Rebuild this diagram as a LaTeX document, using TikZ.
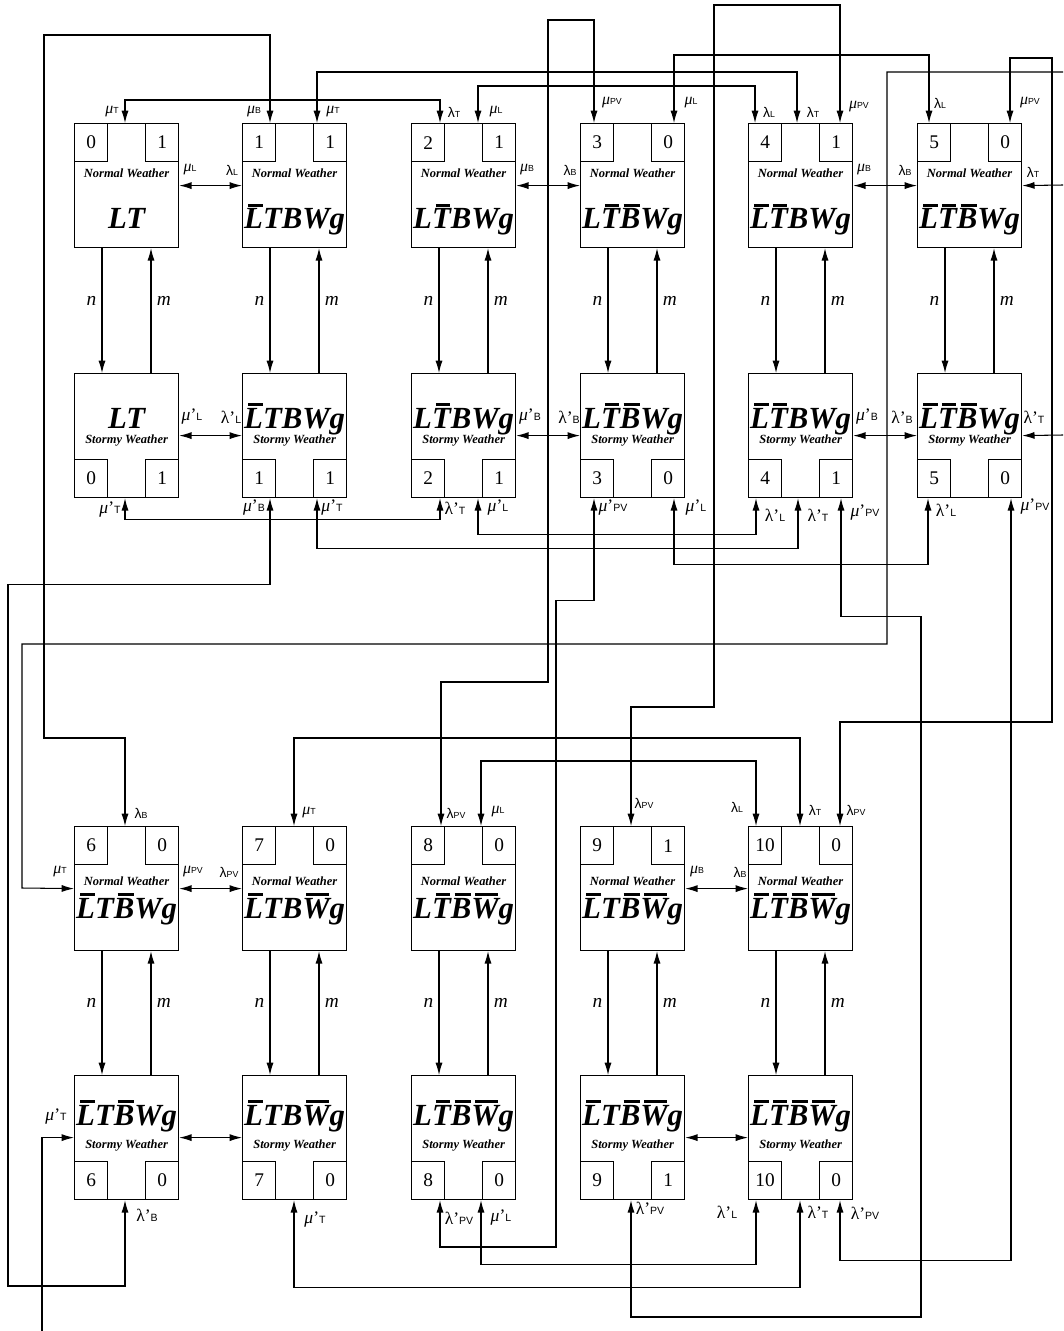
\documentclass[tikz,border=0pt]{standalone}
\usepackage{fontspec}
\setmainfont{Liberation Serif}
\newfontfamily\sansf{Liberation Sans}
\usetikzlibrary{arrows.meta, calc}

\tikzstyle{state} = [draw, line width=0.7pt, minimum width=2.08cm, minimum height=2.48cm, inner sep=0pt, anchor=north west]
\tikzstyle{cell} = [draw, line width=0.7pt, minimum width=0.66cm, minimum height=0.76cm, inner sep=0pt, font=\fontsize{11}{11}\selectfont]
\tikzstyle{wtext} = [inner sep=0pt, font=\bfseries\itshape\fontsize{7.1}{8}\selectfont]
\tikzstyle{big} = [inner sep=0pt, font=\bfseries\itshape\fontsize{17.5}{18}\selectfont]
\tikzstyle{rate} = [inner sep=0pt, font=\fontsize{9}{9}\selectfont]
\tikzstyle{nm} = [inner sep=3pt, font=\itshape\fontsize{11}{11}\selectfont]
\tikzstyle{link} = [<->]

% letra con barra encima
\newcommand{\barl}[1]{\setbox0=\hbox{#1}\vbox{\hbox to \wd0{\hskip 2.2pt\vrule height 1.5pt depth 0pt width \dimexpr\wd0-2.4pt\relax\hss}\nointerlineskip\vskip 1.3pt\box0}}
% tasas
\newcommand{\mur}[1]{{\itshape μ}{\sansf\fontsize{5}{5}\selectfont #1}}
\newcommand{\lar}[1]{{\sansf\fontsize{8}{8}\selectfont λ\fontsize{5}{5}\selectfont #1}}
\newcommand{\murp}[1]{{\fontsize{10}{10}\selectfont\itshape μ\upshape’}{\sansf\fontsize{6}{6}\selectfont #1}}
\newcommand{\larp}[1]{{\fontsize{10}{10}\selectfont λ’}{\sansf\fontsize{6}{6}\selectfont #1}}

% estado con tiempo normal: nombre, x, y, celdas, etiqueta, alturas de texto
\newcommand{\normalstate}[8]{%
  \node[state] (#1) at (#2,#3) {};
  \node[cell, anchor=north west] (#1a) at (#1.north west) {#4};
  \node[cell, anchor=north east] (#1b) at (#1.north east) {#5};
  \node[wtext, anchor=base] (#1w) at ($(#1.north)+(0,#7)$) {Normal Weather};
  \node[big, anchor=base] (#1t) at ($(#1.north)+(0,#8)$) {#6};
}
% estado con tormenta
\newcommand{\stormstate}[8]{%
  \node[state] (#1) at (#2,#3) {};
  \node[cell, anchor=south west] (#1a) at (#1.south west) {#4};
  \node[cell, anchor=south east] (#1b) at (#1.south east) {#5};
  \node[big, anchor=base] (#1t) at ($(#1.north)+(0,#7)$) {#6};
  \node[wtext, anchor=base] (#1w) at ($(#1.north)+(0,#8)$) {Stormy Weather};
}

\begin{document}
\begin{tikzpicture}[x=0.02cm, y=-0.02cm, line width=0.6pt, >={Latex[length=7pt,width=4pt]}]
    \useasboundingbox (0,0) rectangle (1063,1331);

    % Fila 1: tiempo normal
    \normalstate{n0}{74}{123}{0}{1}{LT}{55}{106}
    \normalstate{n1}{242}{123}{1}{1}{\barl{L}TBWg}{55}{106}
    \normalstate{n2}{411}{123}{2}{1}{L\barl{T}BWg}{55}{106}
    \normalstate{n3}{580}{123}{3}{0}{L\barl{T}\barl{B}Wg}{55}{106}
    \normalstate{n4}{748}{123}{4}{1}{\barl{L}\barl{T}BWg}{55}{106}
    \normalstate{n5}{917}{123}{5}{0}{\barl{L}\barl{T}\barl{B}Wg}{55}{106}

    % Fila 2: tormenta
    \stormstate{s0}{74}{373}{0}{1}{LT}{55}{70}
    \stormstate{s1}{242}{373}{1}{1}{\barl{L}TBWg}{55}{70}
    \stormstate{s2}{411}{373}{2}{1}{L\barl{T}BWg}{55}{70}
    \stormstate{s3}{580}{373}{3}{0}{L\barl{T}\barl{B}Wg}{55}{70}
    \stormstate{s4}{748}{373}{4}{1}{\barl{L}\barl{T}BWg}{55}{70}
    \stormstate{s5}{917}{373}{5}{0}{\barl{L}\barl{T}\barl{B}Wg}{55}{70}

    % Fila 3: tiempo normal
    \normalstate{n6}{74}{826}{6}{0}{\barl{L}T\barl{B}Wg}{59}{92}
    \normalstate{n7}{242}{826}{7}{0}{\barl{L}TB\barl{W}g}{59}{92}
    \normalstate{n8}{411}{826}{8}{0}{L\barl{T}\barl{B}\barl{W}g}{59}{92}
    \normalstate{n9}{580}{826}{9}{1}{\barl{L}T\barl{B}\barl{W}g}{59}{92}
    \normalstate{n10}{748}{826}{10}{0}{\barl{L}\barl{T}\barl{B}\barl{W}g}{59}{92}

    % Fila 4: tormenta
    \stormstate{s6}{74}{1075}{6}{0}{\barl{L}T\barl{B}Wg}{50}{73}
    \stormstate{s7}{242}{1075}{7}{0}{\barl{L}TB\barl{W}g}{50}{73}
    \stormstate{s8}{411}{1075}{8}{0}{L\barl{T}\barl{B}\barl{W}g}{50}{73}
    \stormstate{s9}{580}{1075}{9}{1}{\barl{L}T\barl{B}\barl{W}g}{50}{73}
    \stormstate{s10}{748}{1075}{10}{0}{\barl{L}\barl{T}\barl{B}\barl{W}g}{50}{73}

    % Cambio de clima n y m
    \foreach \i in {0,...,10} {
        \draw[->] ($(n\i.south west)+(28,0)$) -- node[nm, left, pos=0.42] (nl\i) {n} ($(s\i.north west)+(28,0)$);
        \draw[->] ($(s\i.north west)+(77,0)$) -- node[nm, right, pos=0.58] (ml\i) {m} ($(n\i.south west)+(77,0)$);
    }

    % Flechas entre estados vecinos
    \draw[link] (n0.east) -- (n1.west);
    \draw[link] (n2.east) -- (n3.west);
    \draw[link] (n4.east) -- (n5.west);
    \draw[link] (s0.east) -- (s1.west);
    \draw[link] (s2.east) -- (s3.west);
    \draw[link] (s4.east) -- (s5.west);
    \draw[link] (n6.east) -- (n7.west);
    \draw[link] (n9.east) -- (n10.west);
    \draw[link] (s6.east) -- (s7.west);
    \draw[link] (s9.east) -- (s10.west);

    % Conexiones por arriba (tiempo normal)
    \draw[link] ($(n0.north west)+(51,0)$) -- ++(0,-23) -| ($(n2.north west)+(29,0)$);
    \draw[link] ($(n1.north west)+(75,0)$) -- ++(0,-51) -| ($(n4.north west)+(49,0)$);
    \draw[link] ($(n2.north west)+(67,0)$) -- ++(0,-37) -| ($(n4.north west)+(7,0)$);
    \draw[link] ($(n3.north west)+(94,0)$) -- ++(0,-68) -| ($(n5.north west)+(12,0)$);
    \draw[link] ($(n1.north west)+(28,0)$) |- (44,35) -- (44,738) -| ($(n6.north west)+(51,0)$);
    \draw[link] ($(n3.north west)+(14,0)$) -- ++(0,-103) -| (548,682) -| ($(n8.north west)+(30,0)$);
    \draw[link] ($(n4.north west)+(92,0)$) -- ++(0,-118) -| (714,707) -| ($(n9.north west)+(51,0)$);
    \draw[link] ($(n5.north west)+(93,0)$) -- ++(0,-65) -| (1052,722) -| ($(n10.north west)+(92,0)$);
    \draw[link] ($(n7.north west)+(52,0)$) -- ++(0,-88) -| ($(n10.north west)+(52,0)$);
    \draw[link] ($(n8.north west)+(70,0)$) -- ++(0,-65) -| ($(n10.north west)+(8,0)$);

    % Lineas que salen del borde
    \coordinate (eA) at (1063,72);
    \coordinate (eB) at (1063,185);
    \coordinate (eC) at (1063,435);
    \coordinate (eD) at (42,1331);
    \draw[->] (eA) -| (887,644) -| (22,888) -- (n6.west);
    \draw[->] (eB) -- (n5.east);
    \draw[->] (eC) -- (s5.east);
    \draw[->] (eD) |- (s6.west);

    % Conexiones por abajo (tormenta)
    \draw[link] ($(s0.south west)+(51,0)$) -- ++(0,21) -| ($(s2.south west)+(29,0)$);
    \draw[link] ($(s1.south west)+(75,0)$) -- ++(0,50) -| ($(s4.south west)+(50,0)$);
    \draw[link] ($(s2.south west)+(67,0)$) -- ++(0,36) -| ($(s4.south west)+(8,0)$);
    \draw[link] ($(s3.south west)+(94,0)$) -- ++(0,66) -| ($(s5.south west)+(11,0)$);
    \draw[link] ($(s1.south west)+(28,0)$) -- ++(0,86) -| (8,1286) -| ($(s6.south west)+(51,0)$);
    \draw[link] ($(s3.south west)+(14,0)$) -- ++(0,102) -| (556,1247) -| ($(s8.south west)+(29,0)$);
    \draw[link] ($(s4.south west)+(93,0)$) -- ++(0,118) -| (921,1317) -| ($(s9.south west)+(51,0)$);
    \draw[link] ($(s5.south west)+(94,0)$) |- ($(s10.south west)+(92,60)$) -- ($(s10.south west)+(92,0)$);
    \draw[link] ($(s7.south west)+(52,0)$) -- ++(0,87) -| ($(s10.south west)+(52,0)$);
    \draw[link] ($(s8.south west)+(70,0)$) -- ++(0,64) -| ($(s10.south west)+(8,0)$);

    % Etiquetas de tasas
    \foreach \x/\y/\lbl [count=\k] in {
        112/112/\mur{T}, 254/112/\mur{B}, 333/112/\mur{T}, 454/112/\lar{T}, 496/112/\mur{L},
        612/103/\mur{PV}, 691/103/\mur{L}, 769/112/\lar{L}, 813/112/\lar{T}, 859/107/\mur{PV},
        940/103/\lar{L}, 1030/103/\mur{PV},
        190/170/\mur{L}, 232/170/\lar{L}, 527/170/\mur{B}, 570/170/\lar{B}, 864/170/\mur{B},
        905/170/\lar{B}, 1033/172/\lar{T},
        192/417/\murp{L}, 231/417/\larp{L}, 530/417/\murp{B}, 569/417/\larp{B}, 867/417/\murp{B},
        902/417/\larp{B}, 1034/417/\larp{T},
        110/510/\murp{T}, 254/508/\murp{B}, 332/508/\murp{T}, 455/508/\larp{T}, 498/508/\murp{L},
        613/508/\murp{PV}, 696/508/\murp{L}, 775/515/\larp{L}, 818/515/\larp{T}, 865/513/\murp{PV},
        946/510/\larp{L}, 1035/507/\murp{PV},
        141/813/\lar{B}, 309/813/\mur{T}, 456/813/\lar{PV}, 498/812/\mur{L}, 644/803/\lar{PV},
        737/807/\lar{L}, 815/810/\lar{T}, 856/810/\lar{PV},
        60/872/\mur{T}, 193/872/\mur{PV}, 229/872/\lar{PV}, 697/872/\mur{B}, 740/872/\lar{B},
        56/1117/\murp{T}, 147/1215/\larp{B}, 315/1220/\murp{T}, 459/1218/\larp{PV}, 501/1218/\murp{L},
        650/1208/\larp{PV}, 727/1212/\larp{L}, 818/1212/\larp{T}, 865/1213/\larp{PV}}
        \node[rate] (r\k) at (\x,\y) {\lbl};

\end{tikzpicture}
\end{document}
